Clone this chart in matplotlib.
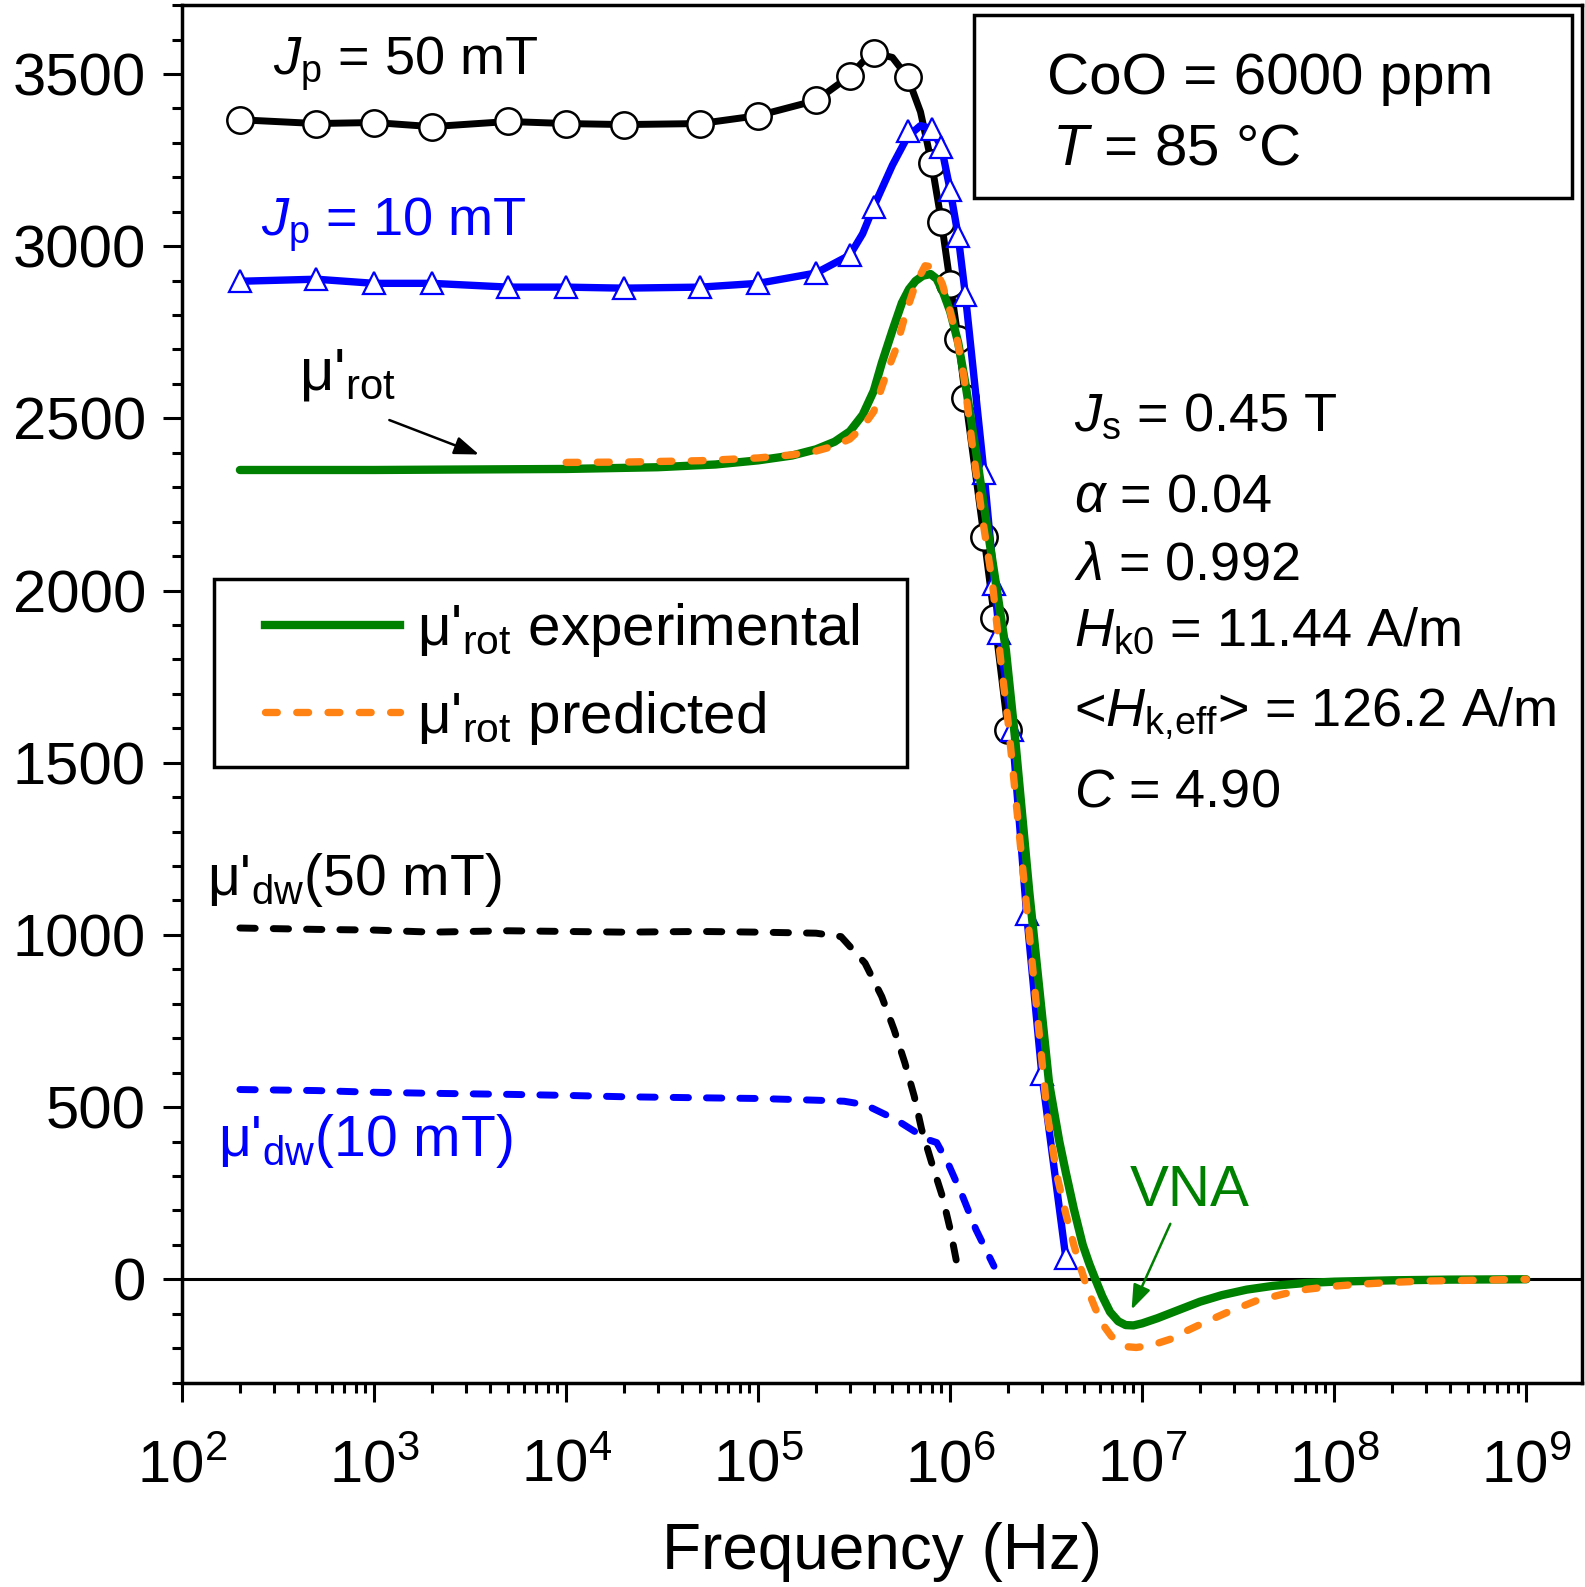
import numpy as np
import matplotlib
matplotlib.use("Agg")
import matplotlib.pyplot as plt
from matplotlib.ticker import MultipleLocator, FixedLocator, FuncFormatter, NullFormatter
from matplotlib.patches import Rectangle
from matplotlib.lines import Line2D

plt.rcParams["font.family"] = ["Liberation Sans", "DejaVu Sans"]
plt.rcParams["mathtext.fontset"] = "custom"
plt.rcParams["mathtext.rm"] = "Liberation Sans"
plt.rcParams["mathtext.it"] = "Liberation Sans:italic"
plt.rcParams["mathtext.bf"] = "Liberation Sans:bold"

# J_p = 50 mT, measured points (circles)
f_50 = [200, 500, 1e3, 2e3, 5e3, 1e4, 2e4, 5e4, 1e5, 2e5, 3e5, 4e5, 6e5, 8e5, 9e5,
        1.0e6, 1.1e6, 1.2e6, 1.5e6, 1.7e6, 2.0e6]
mu_50 = [3367, 3356, 3359, 3347, 3362, 3356, 3353, 3356, 3379, 3423, 3494, 3561, 3491, 3241, 3071,
         2891, 2731, 2560, 2154, 1919, 1595]
# line through the circles
f_50_line = [200, 500, 1e3, 2e3, 5e3, 1e4, 2e4, 5e4, 1e5, 2e5, 3e5, 3.5e5, 4e5, 5e5, 6e5, 7e5,
             8e5, 9e5, 1.0e6, 1.1e6, 1.2e6, 1.5e6, 1.7e6, 2.0e6]
mu_50_line = [3367, 3356, 3359, 3347, 3362, 3356, 3353, 3356, 3379, 3423, 3494, 3535, 3561, 3548,
              3491, 3390, 3241, 3071, 2891, 2731, 2560, 2154, 1919, 1595]

# J_p = 10 mT, measured points (triangles)
f_10 = [200, 500, 1e3, 2e3, 5e3, 1e4, 2e4, 5e4, 1e5, 2e5, 3e5, 4e5, 6e5, 8e5, 9e5,
        1.0e6, 1.1e6, 1.2e6, 1.5e6, 1.7e6, 1.8e6, 2.1e6, 2.5e6, 3.0e6, 4.0e6]
mu_10 = [2898, 2904, 2892, 2892, 2881, 2881, 2878, 2881, 2892, 2922, 2974, 3115, 3335, 3341, 3288,
         3162, 3030, 2857, 2341, 2018, 1877, 1595, 1060, 595, 62]
f_10_line = [200, 500, 1e3, 2e3, 5e3, 1e4, 2e4, 5e4, 1e5, 2e5, 3e5, 3.5e5, 4e5, 5e5, 6e5, 7e5,
             8e5, 9e5, 1.0e6, 1.1e6, 1.2e6, 1.5e6, 1.7e6, 1.8e6, 2.1e6, 2.5e6, 3.0e6, 4.0e6]
mu_10_line = [2898, 2904, 2892, 2892, 2881, 2881, 2878, 2881, 2892, 2922, 2974, 3036, 3115, 3235,
              3318, 3350, 3341, 3288, 3162, 3030, 2857, 2341, 2018, 1877, 1595, 1060, 595, 62]

# mu'_rot experimental (green)
f_exp = [200, 1e3, 1e4, 3e4, 6e4, 1e5, 1.5e5, 2e5, 2.5e5, 3e5, 3.5e5, 4e5, 4.4e5, 5e5, 5.6e5,
         6.1e5, 6.6e5, 7.2e5, 7.9e5, 8.5e5, 9.2e5, 1.0e6, 1.1e6, 1.2e6, 1.36e6, 1.53e6, 1.73e6,
         1.95e6, 2.19e6, 2.58e6, 3.27e6, 3.7e6, 4.0e6, 4.4e6, 4.9e6, 5.3e6, 5.7e6, 6.2e6, 6.8e6,
         7.5e6, 8.2e6, 9e6, 1e7, 1.2e7, 1.5e7, 2e7, 2.6e7, 3.5e7, 4.8e7, 7e7, 1e8, 2e8, 4e8, 1e9]
mu_exp = [2350, 2350, 2353, 2358, 2366, 2378, 2392, 2410, 2432, 2462, 2510, 2580, 2660, 2755, 2835,
          2875, 2899, 2914, 2919, 2905, 2865, 2810, 2720, 2600, 2406, 2213, 2020,
          1827, 1556, 1126, 571, 400, 310, 205, 100, 45, 0, -50, -95,
          -122, -133, -134, -128, -113, -92, -65, -46, -30, -19, -11, -7, -3, -1, 0]

# mu'_rot predicted (orange)
f_pred = [1e4, 2e4, 5e4, 1e5, 1.5e5, 2e5, 2.5e5, 3e5, 3.5e5, 4e5, 4.4e5, 4.8e5, 5.2e5, 5.85e5,
          6.6e5, 7.4e5, 8e5, 8.5e5, 9.1e5, 1.0e6, 1.09e6, 1.18e6, 1.3e6, 1.47e6, 1.66e6, 1.83e6,
          2.0e6, 2.5e6, 3.2e6, 3.6e6, 4.0e6, 4.4e6, 4.8e6, 5.2e6, 5.7e6, 6.3e6, 6.9e6, 7.6e6,
          8.4e6, 9.3e6, 1.05e7, 1.2e7, 1.4e7, 1.7e7, 2.1e7, 2.8e7, 3.9e7, 5.5e7, 7.2e7, 1e8,
          1.3e8, 2e8, 3e8, 5e8, 1e9]
mu_pred = [2372, 2373, 2377, 2385, 2394, 2405, 2420, 2440, 2475, 2520, 2590, 2650, 2700, 2803,
           2890, 2943, 2940, 2925, 2890, 2810, 2725, 2619, 2427, 2212, 2020, 1800,
           1620, 1080, 480, 300, 190, 100, 30, -30, -85, -135, -165, -185,
           -196, -198, -194, -186, -174, -150, -126, -95, -63, -42, -29, -20,
           -15, -9, -5, -3, 0]

# mu'_dw(50 mT)
f_dw50 = [200, 500, 1e3, 2e3, 5e3, 1e4, 2e4, 5e4, 1e5, 2e5, 2.7e5, 3.6e5, 4.4e5, 5.1e5,
          5.8e5, 6.5e5, 7.1e5, 8e5, 9.1e5, 1.0e6, 1.09e6]
mu_dw50 = [1020, 1016, 1014, 1008, 1012, 1010, 1008, 1010, 1008, 1005, 995, 918, 821, 725,
           629, 531, 435, 339, 241, 145, 38]

# mu'_dw(10 mT)
f_dw10 = [200, 500, 1e3, 2e3, 5e3, 1e4, 2e4, 5e4, 1e5, 2e5, 2.8e5, 3.6e5, 5.2e5, 7.6e5,
          8.5e5, 9.7e5, 1.16e6, 1.36e6, 1.69e6]
mu_dw10 = [551, 548, 543, 540, 537, 534, 530, 527, 525, 520, 517, 507, 464, 406,
           397, 339, 241, 145, 38]

x_ticks = [1e2, 1e3, 1e4, 1e5, 1e6, 1e7, 1e8, 1e9]

green = "#008000"
orange = "#ff8213"
blue = "#0000ff"

fig = plt.figure(figsize=(15.85, 15.87), dpi=100)
ax = fig.add_axes([0.1149, 0.1288, 0.8832, 0.868])

ax.axhline(0, color="k", lw=2.2, zorder=1)

ax.plot(f_dw50, mu_dw50, color="k", lw=5, dashes=(2.2, 2.6), dash_capstyle="round", zorder=2)
ax.plot(f_dw10, mu_dw10, color=blue, lw=5, dashes=(2.2, 2.6), dash_capstyle="round", zorder=2)

ax.plot(f_50_line, mu_50_line, color="k", lw=5, zorder=3)
ax.plot(f_50, mu_50, ls="none", marker="o", ms=19, mfc="white", mec="k", mew=1.8, zorder=3)
ax.plot(f_10_line, mu_10_line, color=blue, lw=5.3, zorder=4)
ax.plot(f_10, mu_10, ls="none", marker="^", ms=16, mfc="white", mec=blue, mew=1.6, zorder=4)

ax.plot(f_exp, mu_exp, color=green, lw=6, solid_capstyle="round", solid_joinstyle="round", zorder=5)
ax.plot(f_pred, mu_pred, color=orange, lw=5.3, dashes=(1.6, 2.65), dash_capstyle="round", zorder=6)

ax.set_xscale("log")
ax.set_xlim(1e2, 1.95e9)
ax.set_ylim(-300, 3700)
ax.xaxis.set_major_locator(FixedLocator(x_ticks))
ax.xaxis.set_minor_locator(FixedLocator([m * d for d in x_ticks[:-1] for m in range(2, 10)]))
ax.xaxis.set_minor_formatter(NullFormatter())
ax.xaxis.set_major_formatter(FuncFormatter(lambda v, p: r"$\mathregular{10^{%d}}$" % round(np.log10(v))))
ax.yaxis.set_major_locator(MultipleLocator(500))
ax.yaxis.set_minor_locator(MultipleLocator(100))
ax.tick_params(which="major", direction="out", length=14, width=2.2, labelsize=43)
ax.tick_params(which="minor", direction="out", length=7, width=2.2)
ax.tick_params(axis="y", which="major", pad=12)
ax.tick_params(axis="x", which="major", pad=27)
for s in ax.spines.values():
    s.set_linewidth(2.5)

ax.set_xlabel("Frequency (Hz)", fontsize=46, labelpad=20)

# curve labels
ax.text(299, 3497, r"$J_\mathrm{p}$ = 50 mT", fontsize=39, va="baseline")
ax.text(258, 3030, r"$J_\mathrm{p}$ = 10 mT", fontsize=39, va="baseline", color=blue)
ax.text(404, 2585, r"μ'$_\mathrm{rot}$", fontsize=43, va="baseline")
ax.annotate("", xy=(3516, 2395), xytext=(1200, 2495),
            arrowprops=dict(arrowstyle="-|>,head_length=0.6,head_width=0.22", lw=1.8,
                            color="k", mutation_scale=25, shrinkA=0, shrinkB=0))
ax.text(135, 1115, r"μ'$_\mathrm{dw}$(50 mT)", fontsize=41, va="baseline")
ax.text(153, 358, r"μ'$_\mathrm{dw}$(10 mT)", fontsize=41, va="baseline", color=blue)
ax.text(8.6e6, 214, "VNA", fontsize=42, va="baseline", color=green)
ax.annotate("", xy=(8.8e6, -88), xytext=(1.4e7, 161),
            arrowprops=dict(arrowstyle="-|>,head_length=0.6,head_width=0.22", lw=1.8,
                            color=green, mutation_scale=25, shrinkA=0, shrinkB=0))

# sample box
ax.add_patch(Rectangle((0.5654, 0.8597), 0.4274, 0.133, transform=ax.transAxes,
                       fill=False, ec="k", lw=2.5, zorder=7))
ax.text(3.2e6, 3441, "CoO = 6000 ppm", fontsize=42, va="baseline")
ax.text(3.4e6, 3236, r"$T$ = 85 °C", fontsize=42, va="baseline")

# model parameters
params = [r"$J_\mathrm{s}$ = 0.45 T", r"$\alpha$ = 0.04", r"$\lambda$ = 0.992",
          r"$H_\mathrm{k0}$ = 11.44 A/m", r"<$H_\mathrm{k{,}eff}$> = 126.2 A/m", r"$C$ = 4.90"]
param_y = [2464, 2229, 2033, 1839, 1605, 1373]
for txt, yv in zip(params, param_y):
    ax.text(4.4e6, yv, txt, fontsize=39, va="baseline")

# legend box
ax.add_patch(Rectangle((0.0231, 0.4467), 0.4946, 0.1367, transform=ax.transAxes,
                       fill=False, ec="k", lw=2.5, zorder=7))
ax.add_line(Line2D([0.0593, 0.1555], [0.5503, 0.5503], transform=ax.transAxes,
                   color=green, lw=6, zorder=7))
ax.add_line(Line2D([0.0593, 0.1555], [0.4871, 0.4871], transform=ax.transAxes,
                   color=orange, lw=5.3, dashes=(1.6, 2.65), dash_capstyle="round", zorder=7))
ax.text(0.1678, 0.5356, r"μ'$_\mathrm{rot}$ experimental", fontsize=42, va="baseline",
        transform=ax.transAxes)
ax.text(0.1678, 0.4717, r"μ'$_\mathrm{rot}$ predicted", fontsize=42, va="baseline",
        transform=ax.transAxes)

fig.savefig("out.png", dpi=100)
